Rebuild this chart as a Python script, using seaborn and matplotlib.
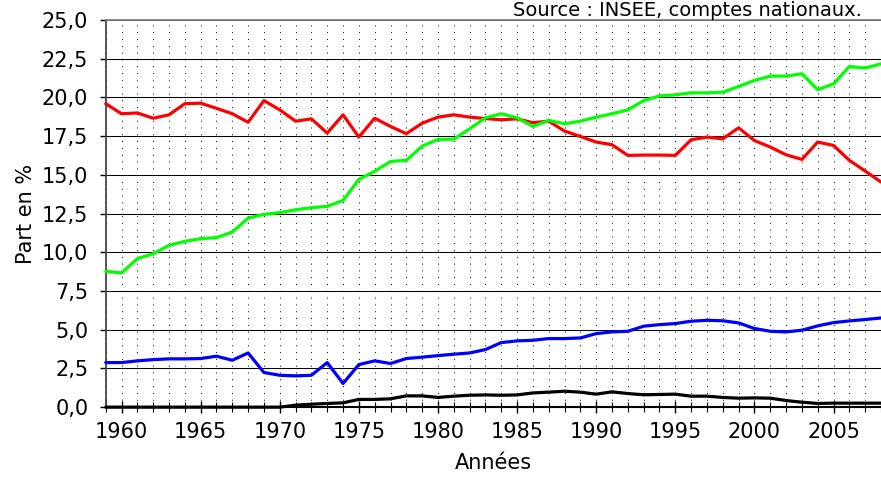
import numpy as np
import pandas as pd
import seaborn as sns
import matplotlib.pyplot as plt
from matplotlib.ticker import MultipleLocator, FuncFormatter

# Years 1959-2008
annees = list(range(1959, 2009))

# Values (part en %)
serie_rouge = [19.6, 18.95, 19.0, 18.66, 18.88, 19.6, 19.63, 19.3, 18.95, 18.4,
               19.8, 19.2, 18.47, 18.62, 17.7, 18.88, 17.44, 18.66, 18.13, 17.66,
               18.34, 18.73, 18.88, 18.73, 18.64, 18.56, 18.62, 18.37, 18.47, 17.83,
               17.48, 17.12, 16.95, 16.26, 16.28, 16.28, 16.26, 17.27, 17.44, 17.33,
               18.04, 17.22, 16.8, 16.3, 16.0, 17.12, 16.9, 15.94, 15.25, 14.54]
serie_verte = [8.77, 8.67, 9.59, 9.91, 10.45, 10.71, 10.88, 10.95, 11.31, 12.21,
               12.45, 12.56, 12.75, 12.88, 12.97, 13.35, 14.71, 15.23, 15.87, 15.94,
               16.86, 17.29, 17.31, 17.98, 18.69, 18.95, 18.69, 18.13, 18.52, 18.3,
               18.47, 18.73, 18.95, 19.2, 19.8, 20.1, 20.17, 20.3, 20.3, 20.34,
               20.71, 21.1, 21.38, 21.38, 21.53, 20.5, 20.88, 22.0, 21.9, 22.17]
serie_bleue = [2.88, 2.88, 2.99, 3.07, 3.12, 3.12, 3.14, 3.29, 3.03, 3.5,
               2.24, 2.06, 2.02, 2.06, 2.88, 1.53, 2.75, 2.99, 2.82, 3.14,
               3.23, 3.33, 3.42, 3.5, 3.72, 4.17, 4.28, 4.32, 4.43, 4.43,
               4.47, 4.75, 4.86, 4.9, 5.23, 5.33, 5.4, 5.55, 5.61, 5.58,
               5.44, 5.08, 4.9, 4.86, 4.97, 5.25, 5.46, 5.57, 5.66, 5.76]
serie_noire = [0.0, 0.0, 0.0, 0.0, 0.0, 0.0, 0.0, 0.0, 0.0, 0.0,
               0.0, 0.0, 0.13, 0.19, 0.24, 0.28, 0.5, 0.5, 0.54, 0.73,
               0.73, 0.63, 0.71, 0.77, 0.79, 0.77, 0.79, 0.92, 0.97, 1.03,
               0.97, 0.84, 0.99, 0.88, 0.8, 0.82, 0.84, 0.71, 0.71, 0.63,
               0.58, 0.6, 0.58, 0.43, 0.32, 0.24, 0.26, 0.26, 0.26, 0.26]

series = {"rouge": serie_rouge, "vert": serie_verte, "bleu": serie_bleue, "noir": serie_noire}
couleurs = {"rouge": "#ff0000", "vert": "#00ff00", "bleu": "#0000ff", "noir": "#000000"}

df = pd.concat(
    [pd.DataFrame({"Année": annees, "Part": vals, "Série": nom}) for nom, vals in series.items()],
    ignore_index=True,
)

sns.set_theme(style="white")
plt.rcParams["font.family"] = ["DejaVu Sans"]
plt.rcParams.update({"text.color": "black", "axes.labelcolor": "black",
                     "xtick.color": "black", "ytick.color": "black"})

fig = plt.figure(figsize=(8.81, 4.83), dpi=100)
ax = fig.add_axes([0.12, 0.157, 0.88, 0.8015])

sns.lineplot(data=df, x="Année", y="Part", hue="Série", palette=couleurs,
             linewidth=2.3, legend=False, ax=ax, zorder=3)
for line in ax.get_lines():
    line.set_clip_on(False)

ax.set_xlim(1959, 2008)
ax.set_ylim(0, 25)
ax.xaxis.set_major_locator(MultipleLocator(5))
ax.xaxis.set_minor_locator(MultipleLocator(1))
ax.yaxis.set_major_locator(MultipleLocator(2.5))
ax.yaxis.set_major_formatter(FuncFormatter(lambda v, p: f"{v:.1f}".replace(".", ",")))

# grid: solid horizontal, dotted vertical every year
ax.grid(axis="y", which="major", color="black", linewidth=0.75, linestyle="-")
ax.grid(axis="x", which="both", color="black", linewidth=0.7, linestyle=(0, (1, 6)))
ax.set_axisbelow(True)

ax.spines["right"].set_visible(False)
ax.spines["top"].set_color("#808080")
ax.spines["left"].set_color("#404040")
ax.spines["bottom"].set_color("black")
ax.spines["bottom"].set_linewidth(1.5)

ax.tick_params(axis="x", which="major", direction="inout", length=9, width=1,
               labelsize=15, pad=6, bottom=True)
ax.tick_params(axis="x", which="minor", direction="inout", length=7, width=0.8,
               bottom=True)
ax.tick_params(axis="y", which="major", direction="out", length=4.5, width=1,
               labelsize=15, pad=8, left=True)

ax.set_xlabel("Années", fontsize=15, labelpad=8)
ax.set_ylabel("Part en %", fontsize=15, labelpad=4)

fig.text(0.978, 0.966, "Source : INSEE, comptes nationaux.", ha="right", va="baseline", fontsize=14)

fig.savefig("out.png", dpi=100)
